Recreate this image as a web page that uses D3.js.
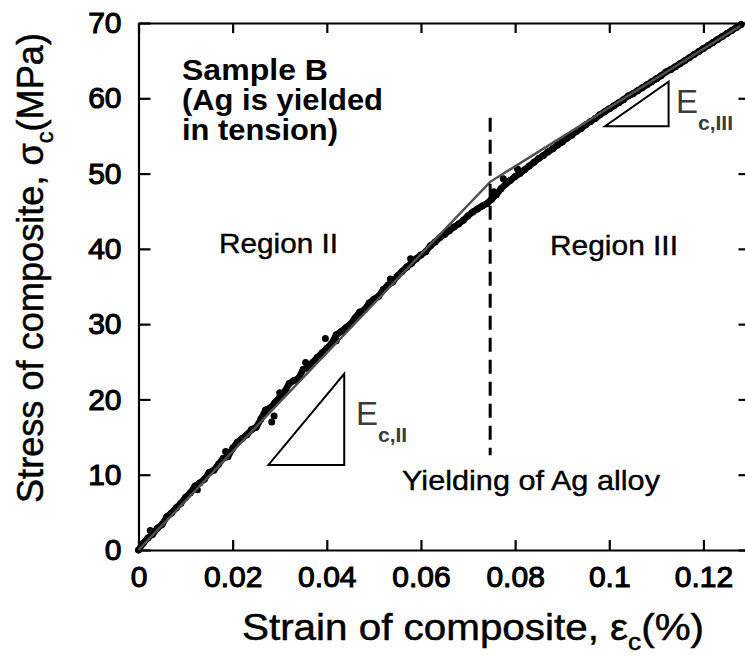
<!DOCTYPE html>
<html>
<head>
<meta charset="utf-8">
<script src="https://cdn.jsdelivr.net/npm/d3@7"></script>
<style>
  html, body { margin: 0; padding: 0; background: #fff; }
  svg { display: block; }
  text { font-family: "Liberation Sans", Arial, sans-serif; }
</style>
</head>
<body>
<svg id="chart" width="745" height="656"></svg>
<script>
// Measured composite response (strain in %, stress in MPa)
const strain = [
  0.000, 0.001, 0.002, 0.003, 0.004, 0.005, 0.006, 0.007, 0.008, 0.009,
  0.010, 0.011, 0.012, 0.013, 0.014, 0.015, 0.016, 0.017, 0.018, 0.019,
  0.020, 0.021, 0.022, 0.023, 0.024, 0.025, 0.026, 0.027, 0.028,
  0.029, 0.030, 0.031, 0.032, 0.033, 0.034, 0.035, 0.036, 0.037, 0.038,
  0.039, 0.040, 0.041, 0.042, 0.043, 0.044, 0.045, 0.046, 0.047, 0.048,
  0.049, 0.050, 0.051, 0.052, 0.053, 0.054, 0.055, 0.056, 0.057,
  0.058, 0.059, 0.060, 0.061, 0.062, 0.063, 0.064, 0.065, 0.066, 0.067,
  0.068, 0.069, 0.070, 0.071, 0.072, 0.073, 0.074, 0.075, 0.076,
  0.077, 0.078, 0.079, 0.080, 0.081, 0.082, 0.083, 0.084, 0.085,
  0.086, 0.087, 0.088, 0.089, 0.090, 0.091, 0.092, 0.093, 0.094, 0.095,
  0.096, 0.097, 0.098, 0.099, 0.100, 0.101, 0.102, 0.103, 0.104, 0.105,
  0.106, 0.107, 0.108, 0.109, 0.110, 0.111, 0.112, 0.113, 0.114, 0.115,
  0.116, 0.117, 0.118, 0.119, 0.120, 0.121, 0.122, 0.123, 0.124, 0.125,
  0.126, 0.127, 0.128
];
const stress = [
  0.0, 0.9, 1.6, 2.1, 2.9, 3.4, 4.4, 4.9, 5.6, 6.2,
  7.0, 7.6, 8.5, 8.9, 9.4, 10.3, 10.6, 11.4, 12.2, 12.4,
  13.5, 14.3, 14.8, 15.3, 16.0, 16.3, 17.4, 18.6, 18.9,
  19.6, 20.3, 21.0, 22.1, 22.5, 22.8, 24.0, 24.2, 24.9, 25.6,
  26.2, 26.8, 27.4, 28.6, 29.0, 29.5, 30.0, 30.8, 31.6, 31.9,
  32.8, 33.3, 33.7, 34.6, 35.2, 35.6, 36.4, 37.0, 37.6,
  38.1, 38.7, 39.2, 39.6, 40.4, 40.9, 41.5, 41.9, 42.4, 42.9,
  43.3, 43.8, 44.4, 44.9, 45.3, 45.7, 46.0, 46.6, 47.2,
  48.0, 48.6, 49.1, 49.6, 50.0, 50.5, 51.0, 51.5, 52.0,
  52.4, 52.9, 53.3, 53.8, 54.2, 54.7, 55.1, 55.6, 56.0, 56.5,
  56.9, 57.3, 57.8, 58.2, 58.6, 59.0, 59.4, 59.8, 60.3, 60.6,
  61.0, 61.4, 61.8, 62.2, 62.6, 63.0, 63.5, 63.8, 64.2, 64.6,
  65.0, 65.4, 65.8, 66.2, 66.6, 67.0, 67.4, 67.8, 68.2, 68.6,
  69.0, 69.4, 69.8
];
// Scattered readings lying off the main trace
const strayStrain = [0.0025, 0.0125, 0.0185, 0.0283, 0.0288, 0.0300, 0.0355, 0.0397, 0.0420, 0.0535, 0.0578, 0.0755, 0.0775, 0.0805];
const strayStress = [2.6, 8.0, 13.1, 17.0, 17.8, 20.9, 24.9, 28.1, 27.8, 36.0, 38.7, 47.6, 49.3, 50.6];

// Bilinear fit: Region II and Region III moduli meeting at Ag yielding
const fitStrain = [0, 0.0747, 0.1278];
const fitStress = [0, 48.9, 69.6];

// Slope triangles for E_c,II and E_c,III
const triIIStrain = [0.0276, 0.0437, 0.0437];
const triIIStress = [11.3, 11.3, 23.4];
const triIIIStrain = [0.0991, 0.1126, 0.1126];
const triIIIStress = [56.3, 56.3, 62.2];

// Yield marker
const yieldStrain = 0.0747;
const yieldStressRange = [12.6, 57.4];

// Axis ticks
const xTicks = [0, 0.02, 0.04, 0.06, 0.08, 0.1, 0.12];
const xTickLabels = ["0", "0.02", "0.04", "0.06", "0.08", "0.1", "0.12"];
const yTicks = [0, 10, 20, 30, 40, 50, 60, 70];
const yTickLabels = ["0", "10", "20", "30", "40", "50", "60", "70"];

const svg = d3.select("#chart");
const margin = { left: 138.5, top: 23, right: -5.5, bottom: 106 };
const W = 745, H = 656;
const plotW = W - margin.left - margin.right;
const plotH = H - margin.top - margin.bottom;

const x = d3.scaleLinear().domain([0, 0.13]).range([margin.left, margin.left + plotW]);
const y = d3.scaleLinear().domain([0, 70]).range([margin.top + plotH, margin.top]);

// Frame axes
const axisStyle = g => {
  g.selectAll("path.domain").attr("stroke", "#000").attr("stroke-width", 2.2);
  g.selectAll(".tick line").attr("stroke", "#000").attr("stroke-width", 2.2);
};
const tickText = g => g.selectAll(".tick text")
  .attr("font-size", 30).attr("fill", "#000")
  .attr("stroke", "#000").attr("stroke-width", 1.1)
  .attr("font-family", "Liberation Sans, Arial, sans-serif");

svg.append("g")
  .attr("transform", `translate(0,${y(0)})`)
  .call(d3.axisBottom(x).tickValues(xTicks).tickSize(-10).tickSizeOuter(0)
    .tickFormat((d, i) => xTickLabels[i]).tickPadding(16))
  .call(axisStyle)
  .call(tickText);

svg.append("g")
  .attr("transform", `translate(0,${y(70)})`)
  .call(d3.axisTop(x).tickValues(xTicks).tickSize(-10).tickSizeOuter(0).tickFormat(""))
  .call(axisStyle);

svg.append("g")
  .attr("transform", `translate(${x(0)},0)`)
  .call(d3.axisLeft(y).tickValues(yTicks).tickSize(-12).tickSizeOuter(0)
    .tickFormat((d, i) => yTickLabels[i]).tickPadding(17))
  .call(axisStyle)
  .call(tickText);

svg.append("g")
  .attr("transform", `translate(${x(0.13)},0)`)
  .call(d3.axisRight(y).tickValues(yTicks).tickSize(-12).tickSizeOuter(0).tickFormat(""))
  .call(axisStyle);

// Measured data: dense black band of points
const pts = strain.map((s, i) => [s, stress[i]]);
const stray = strayStrain.map((s, i) => [s, strayStress[i]]);
const line = d3.line().x(d => x(d[0])).y(d => y(d[1]));

svg.append("path")
  .datum(pts)
  .attr("d", line)
  .attr("fill", "none")
  .attr("stroke", "#000")
  .attr("stroke-width", 6.5)
  .attr("stroke-linejoin", "round")
  .attr("stroke-linecap", "round");

svg.append("g").selectAll("circle")
  .data(pts.concat(stray))
  .join("circle")
  .attr("cx", d => x(d[0]))
  .attr("cy", d => y(d[1]))
  .attr("r", 3.5)
  .attr("fill", "#000");

// Bilinear fit
svg.append("path")
  .datum(fitStrain.map((s, i) => [s, fitStress[i]]))
  .attr("d", line)
  .attr("fill", "none")
  .attr("stroke", "#505050")
  .attr("stroke-width", 2.4);

// Slope triangles
const tri = (xs, ys) => xs.map((s, i) => [s, ys[i]]);
[[triIIStrain, triIIStress], [triIIIStrain, triIIIStress]].forEach(([xs, ys]) => {
  svg.append("path")
    .datum(tri(xs, ys))
    .attr("d", d3.line().x(d => x(d[0])).y(d => y(d[1])).curve(d3.curveLinearClosed))
    .attr("fill", "none")
    .attr("stroke", "#000")
    .attr("stroke-width", 2);
});

// Yield marker (dashed)
svg.append("line")
  .attr("x1", x(yieldStrain)).attr("x2", x(yieldStrain))
  .attr("y1", y(yieldStressRange[1])).attr("y2", y(yieldStressRange[0]))
  .attr("stroke", "#000")
  .attr("stroke-width", 3)
  .attr("stroke-dasharray", "14,8");

// Axis titles
const xt = svg.append("text")
  .attr("x", 242).attr("y", 640)
  .attr("font-size", 37)
  .attr("textLength", 462).attr("lengthAdjust", "spacingAndGlyphs")
  .attr("stroke", "#000").attr("stroke-width", 0.5);
xt.append("tspan").text("Strain of composite, ε");
xt.append("tspan").attr("font-size", 24).attr("dy", 10).text("c");
xt.append("tspan").attr("dy", -10).text("(%)");

const yt = svg.append("text")
  .attr("transform", "translate(43,503) rotate(-90)")
  .attr("font-size", 37)
  .attr("textLength", 470).attr("lengthAdjust", "spacingAndGlyphs")
  .attr("stroke", "#000").attr("stroke-width", 0.5);
yt.append("tspan").text("Stress of composite, σ");
yt.append("tspan").attr("font-size", 24).attr("dy", 10).text("c");
yt.append("tspan").attr("dy", -10).text("(MPa)");

// Annotations
const note = (tx, ty, str, size, weight, len) =>
  svg.append("text").attr("x", tx).attr("y", ty)
    .attr("font-size", size).attr("font-weight", weight)
    .attr("textLength", len).attr("lengthAdjust", "spacingAndGlyphs")
    .attr("stroke", "#000").attr("stroke-width", weight === "bold" ? 0 : 0.4)
    .attr("fill", "#000").text(str);

note(182, 80, "Sample B", 29, "bold", 146);
note(182, 110, "(Ag is yielded", 29, "bold", 201);
note(182, 140, "in tension)", 29, "bold", 156);
note(219, 253, "Region II", 28, "normal", 119);
note(550, 255, "Region III", 28, "normal", 128);
note(402, 490, "Yielding of Ag alloy", 28, "normal", 258);

// Modulus labels
const modLabel = (tx, ty, sub) => {
  const t = svg.append("text").attr("x", tx).attr("y", ty)
    .attr("fill", "#3a3a3a").attr("font-size", 33);
  t.append("tspan").text("E");
  t.append("tspan").attr("font-size", 21).attr("font-weight", "bold")
    .attr("dy", 17).text(sub);
};
modLabel(356, 425, "c,II");
modLabel(676, 113, "c,III");
</script>
</body>
</html>
